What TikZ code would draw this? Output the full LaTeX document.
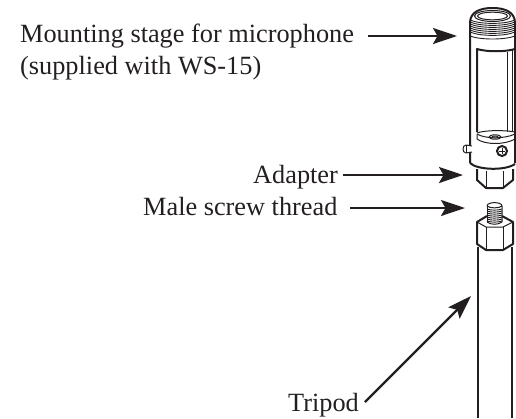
\documentclass[tikz,border=0pt]{standalone}
\usepackage{fontspec}
\setmainfont{Liberation Serif}
\usetikzlibrary{arrows.meta}
\definecolor{ink}{RGB}{35,31,32}
\tikzset{
 lbl/.style={font=\fontsize{26.3}{30}\selectfont,text=ink,inner sep=0pt,anchor=base west},
 pointer/.style={draw=ink,line width=2.2pt,-{Stealth[length=24pt,width=16pt,inset=4.5pt]}},
 thick part/.style={draw=ink,line width=2pt,line join=round},
 thin part/.style={draw=ink,line width=1pt,line join=round},
 thread/.style={draw=ink,line width=0.9pt},
}
\begin{document}
\begin{tikzpicture}[x=1pt,y=-1pt]
\useasboundingbox (0,0) rectangle (516,418);
% microphone stage
\draw[thick part] (470,163) -- (470,23)
  .. controls (470,12) and (480,8) .. (492.5,8) .. controls (505,8) and (515,12) .. (515,23) -- (515,163);
\draw[thin part] (492.5,16) ellipse[x radius=18,y radius=5.5];
\draw[thin part] (492.5,16) ellipse[x radius=15,y radius=3.8];
\foreach \yy in {20,22,24,26,28,30,32}
  \draw[thread] (470,\yy) .. controls (480,\yy+4.5) and (505,\yy+4.5) .. (515,\yy);
\draw[thread] (470,36) .. controls (480,40) and (505,40) .. (515,36);
% window
\draw[thick part] (477,132) -- (477,49) .. controls (487,52) and (505,52) .. (515,49);
\draw[thin part] (507,52) -- (507,132);
\draw[thin part] (512,50) -- (512,131);
\draw[thin part] (477,133) .. controls (485,130) and (505,130) .. (515,132);
\draw[thin part] (477,134) -- (477,139) .. controls (485,145) and (505,145) .. (515,139);
\draw[thin part] (477,134) .. controls (485,139) and (505,139) .. (515,134);
\draw[thin part] (495,137) ellipse[x radius=6,y radius=2.2];
\draw[thin part,fill=ink!25] (495,137) ellipse[x radius=3,y radius=1];
% screw and knob
\draw[thick part] (502,151) circle[radius=5];
\draw[thin part] (499,151) -- (505,151) (502,148) -- (502,154);
\draw[thin part,fill=white] (472,146) -- (466,145) .. controls (462,145) and (462,153) .. (466,153) -- (472,152);
\draw[thin part] (466,145) -- (466,153);
% body bottom
\draw[thick part] (470,163) .. controls (477,170) and (505,171) .. (515,164);
% adapter nut
\draw[thick part] (477,169) -- (477,180) -- (486,188) -- (503,188) -- (513,180) -- (513,169);
\draw[thin part] (486,171) -- (486,188) (503,171) -- (503,188);
% male thread
\draw[thin part] (487,206) .. controls (487,201.5) and (502,201.5) .. (502,206) -- (502,222);
\draw[thin part] (487,206) -- (487,222);
\draw[thin part] (487,206) .. controls (490,208.5) and (499,208.5) .. (502,206);
\foreach \yy in {209,211,213,215,217,219,221}
  \draw[thread] (487,\yy) .. controls (491,\yy+1.5) and (498,\yy+1.5) .. (502,\yy);
% tripod nut
\draw[thick part] (487,216) -- (477,222) -- (477,244) -- (486,250) -- (503,250) -- (513,244) -- (513,222) -- (502,216);
\draw[thin part] (477,222) -- (486,227) -- (503,227) -- (513,222);
\draw[thin part] (486,227) -- (486,250) (503,227) -- (503,250);
\draw[thin part] (487,222) .. controls (491,225) and (498,225) .. (502,222);
% tube
\draw[thick part] (478,247) -- (478,418) (512,247) -- (512,418);
% labels
\node[lbl] (stage) at (20,42.5) {Mounting stage for microphone};
\node[lbl] (sup) at (20,74) {(supplied with WS-15)};
\node[lbl] (adapter) at (253,183) {Adapter};
\node[lbl] (male) at (143,215) {Male screw thread};
\node[lbl] (tripod) at (288,411) {Tripod};
\coordinate (a1) at (457,36);
\coordinate (a2) at (463,175);
\coordinate (a3) at (465,208);
\coordinate (a4) at (471,296);
\coordinate (s1) at (368,36);
\coordinate (s2) at (343,175);
\coordinate (s3) at (350,208);
\coordinate (s4) at (365,402);
\draw[pointer] (s1) -- (a1);
\draw[pointer] (s2) -- (a2);
\draw[pointer] (s3) -- (a3);
\draw[pointer] (s4) -- (a4);
\end{tikzpicture}
\end{document}
